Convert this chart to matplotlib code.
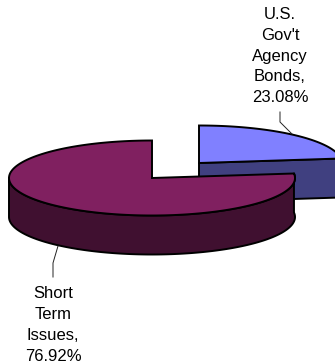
import numpy as np
import matplotlib
matplotlib.use('Agg')
import matplotlib.pyplot as plt
from matplotlib.patches import Polygon

plt.rcParams['font.family'] = ['Liberation Sans', 'DejaVu Sans']

### Data
names = ["U.S.\nGov't\nAgency\nBonds", "Short\nTerm\nIssues"]
shares = [23.08, 76.92]
top_colors = ['#8080FF', '#802060']
side_colors = ['#404080', '#401030']

### Pie geometry, in pixels
RX = 143
RY = 37.5
DEPTH = 39
centers = [(199, 163), (152, 178)]
LW = 1.4


def rim(cx, cy, t):
    t = np.radians(t)
    return np.column_stack([cx + RX*np.cos(t), cy - RY*np.sin(t)])


def slice_3d(ax, center, start, stop, top, side):
    cx, cy = center
    # side wall: outer rim if it reaches the front, otherwise the cut face
    if stop > 360:
        t = np.linspace(180, stop, 200)
        edge = rim(cx, cy, t)
        wall = np.vstack([edge, edge[::-1] + [0, DEPTH]])
    else:
        edge = rim(cx, cy, np.array([start]))[0]
        wall = np.array([[cx, cy], edge, edge + [0, DEPTH], [cx, cy + DEPTH]])
    ax.add_patch(Polygon(wall, closed=True, fc=side, ec='black', lw=LW, joinstyle='round'))
    t = np.linspace(start, stop, 200)
    face = np.vstack([[cx, cy], rim(cx, cy, t)])
    ax.add_patch(Polygon(face, closed=True, fc=top, ec='black', lw=LW, joinstyle='miter'))


fig = plt.figure(figsize=(3.35, 3.64), dpi=100)
ax = fig.add_axes([0, 0, 1, 1])
ax.set_xlim(0, 335)
ax.set_ylim(364, 0)
ax.axis('off')

### Blue slice runs clockwise from 12 o'clock, the rest takes what is left
cut = 90 - shares[0]/100*360
slice_3d(ax, centers[0], cut, 90, top_colors[0], side_colors[0])
slice_3d(ax, centers[1], 90, cut + 360, top_colors[1], side_colors[1])

### Leader lines
ax.plot([280, 280, 292], [112, 122, 134], color='#222222', lw=0.7)
ax.plot([53, 53, 58], [277, 263, 246], color='#222222', lw=0.7)

### Labels
ax.text(280, 56, '%s,\n%.2f%%' % (names[0], shares[0]), ha='center', va='center',
        ma='center', fontsize=12, linespacing=1.48, color='black')
ax.text(53, 325, '%s,\n%.2f%%' % (names[1], shares[1]), ha='center', va='center',
        ma='center', fontsize=12, linespacing=1.48, color='black')

plt.savefig('out.png', dpi=100)
